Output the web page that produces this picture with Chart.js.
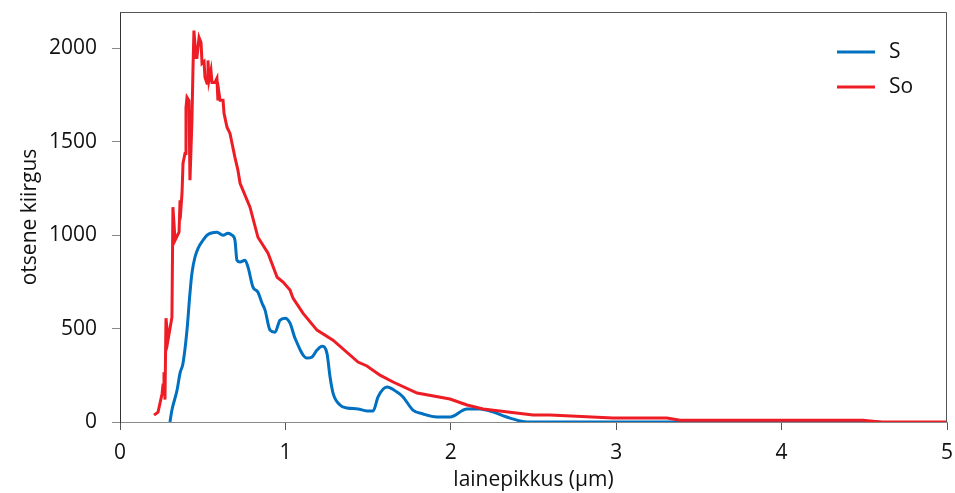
<!DOCTYPE html>
<html>
<head>
<meta charset="utf-8">
<script src="https://cdn.jsdelivr.net/npm/chart.js@4/dist/chart.umd.min.js"></script>
<style>
  html, body { margin: 0; padding: 0; background: #fff; }
  #wrap { width: 955px; height: 493px; }
</style>
</head>
<body>
<div id="wrap"><canvas id="mycanvas" width="955" height="493"></canvas></div>
<script>
// lainepikkus (um) ja otsene kiirgus, loetud pildilt
var waveS = [0.302, 0.314, 0.345, 0.363, 0.381, 0.405, 0.423, 0.435, 0.453, 0.472, 0.502, 0.526, 0.586, 0.623, 0.653, 0.677, 0.695, 0.707, 0.726, 0.756, 0.774, 0.804, 0.834, 0.859, 0.877, 0.907, 0.937, 0.967, 0.998, 1.028, 1.058, 1.131, 1.161, 1.191, 1.221, 1.251, 1.270, 1.288, 1.330, 1.372, 1.439, 1.493, 1.530, 1.560, 1.614, 1.675, 1.711, 1.771, 1.832, 1.917, 1.995, 2.098, 2.177, 2.237, 2.358, 2.461, 3.0, 4.0, 4.6];
var valS = [0, 64, 171, 262, 315, 492, 690, 797, 882, 930, 973, 1000, 1016, 1000, 1011, 1000, 973, 866, 856, 866, 829, 722, 695, 636, 599, 492, 481, 545, 556, 529, 449, 342, 348, 385, 406, 369, 241, 155, 91, 75, 70, 59, 59, 134, 187, 160, 134, 64, 43, 27, 27, 70, 70, 59, 21, 0, 0, 0, 0];

var waveSo = [0.206, 0.230, 0.254, 0.260, 0.266, 0.272, 0.278, 0.290, 0.314, 0.320, 0.333, 0.357, 0.363, 0.369, 0.375, 0.381, 0.393, 0.399, 0.405, 0.417, 0.423, 0.435, 0.441, 0.447, 0.459, 0.465, 0.478, 0.490, 0.496, 0.508, 0.514, 0.526, 0.532, 0.538, 0.550, 0.556, 0.574, 0.586, 0.592, 0.598, 0.605, 0.623, 0.629, 0.647, 0.665, 0.695, 0.713, 0.726, 0.786, 0.834, 0.895, 0.950, 0.986, 1.028, 1.046, 1.106, 1.191, 1.288, 1.439, 1.493, 1.572, 1.651, 1.796, 1.995, 2.098, 2.195, 2.497, 2.600, 2.981, 3.307, 3.386, 4.492, 4.595, 5.0];
var valSo = [37, 53, 150, 198, 267, 120, 556, 438, 561, 1150, 973, 1016, 1187, 1150, 1225, 1385, 1438, 1684, 1738, 1720, 1294, 1615, 1882, 2096, 1952, 1952, 2059, 2032, 1920, 1930, 1845, 1813, 1936, 1829, 1882, 1818, 1818, 1840, 1722, 1765, 1722, 1722, 1652, 1578, 1545, 1417, 1348, 1278, 1150, 989, 904, 775, 749, 706, 663, 583, 492, 438, 321, 300, 251, 214, 155, 123, 91, 70, 37, 37, 21, 21, 10, 10, 0, 0];

var xTicks = [0, 1, 2, 3, 4, 5];
var yTicks = [0, 500, 1000, 1500, 2000];

var blue = '#0070C0';
var red = '#EE1C25';
var fontName = "'Open Sans', 'DejaVu Sans', sans-serif";

function toPoints(xs, ys) {
    var pts = [];
    for (var i = 0; i < xs.length; i++) {
        pts.push({ x: xs[i], y: ys[i] });
    }
    return pts;
}

// raam ja legend joonistatakse ise
var framePlugin = {
    id: 'frame',
    afterDatasetsDraw: function (chart) {
        var ctx = chart.ctx;
        var a = chart.chartArea;
        ctx.save();
        ctx.strokeStyle = '#555';
        ctx.lineWidth = 1;
        ctx.beginPath();
        ctx.moveTo(a.left, a.top + 0.5);
        ctx.lineTo(a.right - 0.5, a.top + 0.5);
        ctx.lineTo(a.right - 0.5, a.bottom);
        ctx.stroke();

        // legend
        var ds = chart.data.datasets;
        ctx.font = '21px ' + fontName;
        ctx.textBaseline = 'middle';
        ctx.fillStyle = '#111';
        for (var i = 0; i < ds.length; i++) {
            var y = 52 + i * 35;
            ctx.strokeStyle = ds[i].borderColor;
            ctx.lineWidth = 3;
            ctx.beginPath();
            ctx.moveTo(837, y);
            ctx.lineTo(875, y);
            ctx.stroke();
            ctx.fillText(ds[i].label, 889, y);
        }
        ctx.restore();
    }
};

var ctx = document.getElementById('mycanvas');

var chart = new Chart(ctx, {
    type: 'scatter',
    data: {
        datasets: [{
            label: 'S',
            data: toPoints(waveS, valS),
            showLine: true,
            borderColor: blue,
            backgroundColor: blue,
            borderWidth: 3,
            pointRadius: 0,
            cubicInterpolationMode: 'monotone',
            order: 1
        }, {
            label: 'So',
            data: toPoints(waveSo, valSo),
            showLine: true,
            borderColor: red,
            backgroundColor: red,
            borderWidth: 3,
            pointRadius: 0,
            tension: 0,
            order: 0
        }]
    },
    options: {
        responsive: false,
        animation: false,
        layout: { padding: { top: 12, right: 8, left: 0, bottom: 0 } },
        plugins: {
            legend: { display: false },
            tooltip: { enabled: false }
        },
        scales: {
            x: {
                type: 'linear',
                min: 0,
                max: 5,
                afterBuildTicks: function (scale) {
                    scale.ticks = xTicks.map(function (v) { return { value: v }; });
                },
                afterFit: function (scale) {
                    scale.height = 71;
                    scale.paddingLeft = 0;
                    scale.paddingRight = 0;
                },
                grid: { drawOnChartArea: false, drawTicks: true, tickLength: 8, color: '#555' },
                border: { display: true, color: '#888', width: 1 },
                ticks: { color: '#111', font: { family: fontName, size: 21 }, padding: 10, maxRotation: 0,
                    callback: function (v) { return String(v); } },
                title: { display: true, text: 'lainepikkus (µm)', color: '#111', font: { family: fontName, size: 21 }, padding: { top: 0, bottom: 0 } }
            },
            y: {
                type: 'linear',
                min: 0,
                max: 2195,
                afterBuildTicks: function (scale) {
                    scale.ticks = yTicks.map(function (v) { return { value: v }; });
                },
                afterFit: function (scale) {
                    scale.width = 120;
                    scale.paddingTop = 0;
                    scale.paddingBottom = 0;
                },
                grid: { drawOnChartArea: false, drawTicks: true, tickLength: 8, color: '#888' },
                border: { display: true, color: '#333', width: 1 },
                ticks: { color: '#111', font: { family: fontName, size: 21 }, padding: 15,
                    callback: function (v) { return String(v); } },
                title: { display: true, text: 'otsene kiirgus', color: '#111', font: { family: fontName, size: 21 }, padding: { top: 17, bottom: 4 } }
            }
        }
    },
    plugins: [framePlugin]
});
</script>
</body>
</html>
